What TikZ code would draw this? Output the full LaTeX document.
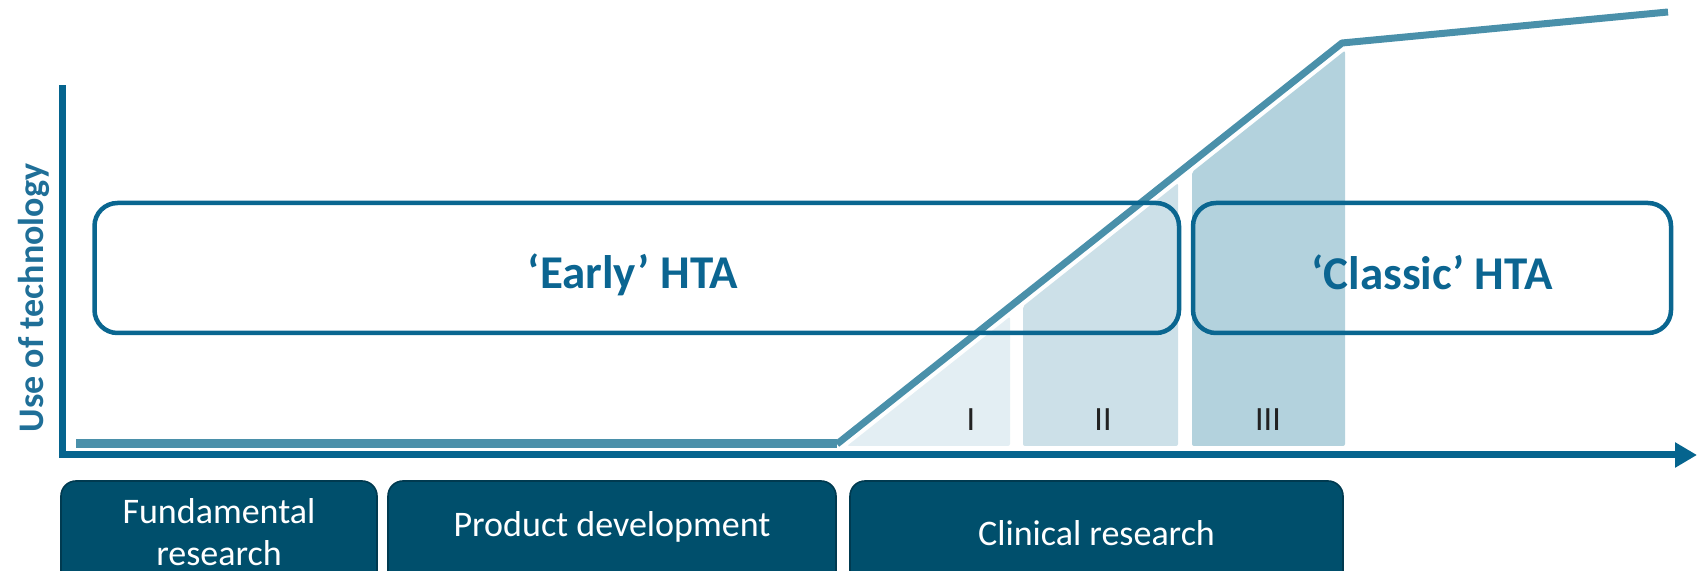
\documentclass[tikz,border=0pt]{standalone}
\usepackage{fontspec}
\setmainfont{Carlito}
\usetikzlibrary{arrows.meta}
\definecolor{axiscol}{HTML}{05648E}
\definecolor{linecol}{HTML}{4A90AA}
\definecolor{boxcol}{HTML}{0A6690}
\definecolor{htatext}{HTML}{0B6591}
\definecolor{ylabcol}{HTML}{1F6F98}
\definecolor{shI}{HTML}{E3EEF3}
\definecolor{shII}{HTML}{CCE0E8}
\definecolor{shIII}{HTML}{B3D2DD}
\definecolor{phasefill}{HTML}{004F6C}
\definecolor{phaseline}{HTML}{003A50}
\definecolor{numcol}{HTML}{222222}
\begin{document}
\begin{tikzpicture}[x=0.5pt,y=-0.5pt,
  axis/.style={draw=axiscol,line width=3.5pt},
  curve/.style={draw=linecol,line width=3.5pt,line join=round},
  htabox/.style={draw=boxcol,line width=2.25pt,rounded corners=11.5pt,minimum height=65pt,inner sep=0pt},
  htalabel/.style={text=htatext,font=\fontsize{23.5}{27}\selectfont\bfseries,anchor=base,inner sep=0pt},
  phasebox/.style={fill=phasefill,draw=phaseline,line width=0.8pt,rounded corners=7.5pt,minimum height=61pt,inner sep=0pt},
  phaselabel/.style={text=white,font=\fontsize{18}{21}\selectfont,inner sep=0pt,align=center},
  numlabel/.style={text=numcol,font=\fontsize{17}{20}\selectfont,inner sep=0pt}
]
\useasboundingbox (0,0) rectangle (1697,571);
\clip (0,0) rectangle (1697,571);

% shaded phase areas
\fill[shI,rounded corners=1pt] (847,446) -- (1010,316.6) -- (1010,446) -- cycle;
\fill[shII,rounded corners=1pt] (1023,446) -- (1023,306.3) -- (1178,183.2) -- (1178,446) -- cycle;
\fill[shIII,rounded corners=1pt] (1192,446) -- (1192,172.1) -- (1345,50.6) -- (1345,446) -- cycle;

% numerals
\node[numlabel] (nI) at (971,420) {I};
\node[numlabel] (nII) at (1103,420) {II};
\node[numlabel] (nIII) at (1268,420) {III};

% technology curve
\coordinate (b0) at (76,444);
\coordinate (b1) at (837,444);
\coordinate (k) at (1342,43);
\coordinate (e) at (1668,12);
\draw[draw=linecol,line width=4.5pt] (b0) -- (b1);
\draw[curve] (b1) -- (k) -- (e);

% HTA boxes
\node[htabox,minimum width=542.25pt] (earlybox) at (636.75,268) {};
\node[htabox,minimum width=239pt] (classicbox) at (1432,268) {};
\node[htalabel] (early) at (633,289) {‘Early’ HTA};
\node[htalabel] (classic) at (1432,290) {‘Classic’ HTA};

% axes
\coordinate (o) at (62,455);
\coordinate (ytop) at (62,89);
\coordinate (xend) at (1697,455);
\draw[axis,line cap=rect] (ytop) -- (o);
\draw[axis,-{Triangle[length=11pt,width=12pt]}] (o) -- (xend);
\node[text=ylabcol,font=\fontsize{18}{21}\selectfont\bfseries,rotate=90,anchor=base,inner sep=0pt] (ylab) at (43,298) {Use of technology};

% phase boxes
\node[phasebox,minimum width=158pt] (fund) at (219,542) {};
\node[phasebox,minimum width=224pt] (prod) at (612,542) {};
\node[phasebox,minimum width=246.5pt] (clin) at (1096.5,542) {};
\node[phaselabel] (fundt) at (219,532) {Fundamental\\research};
\node[phaselabel,anchor=base] (prodt) at (612,536) {Product development};
\node[phaselabel,anchor=base] (clint) at (1096.5,545) {Clinical research};
\end{tikzpicture}
\end{document}
